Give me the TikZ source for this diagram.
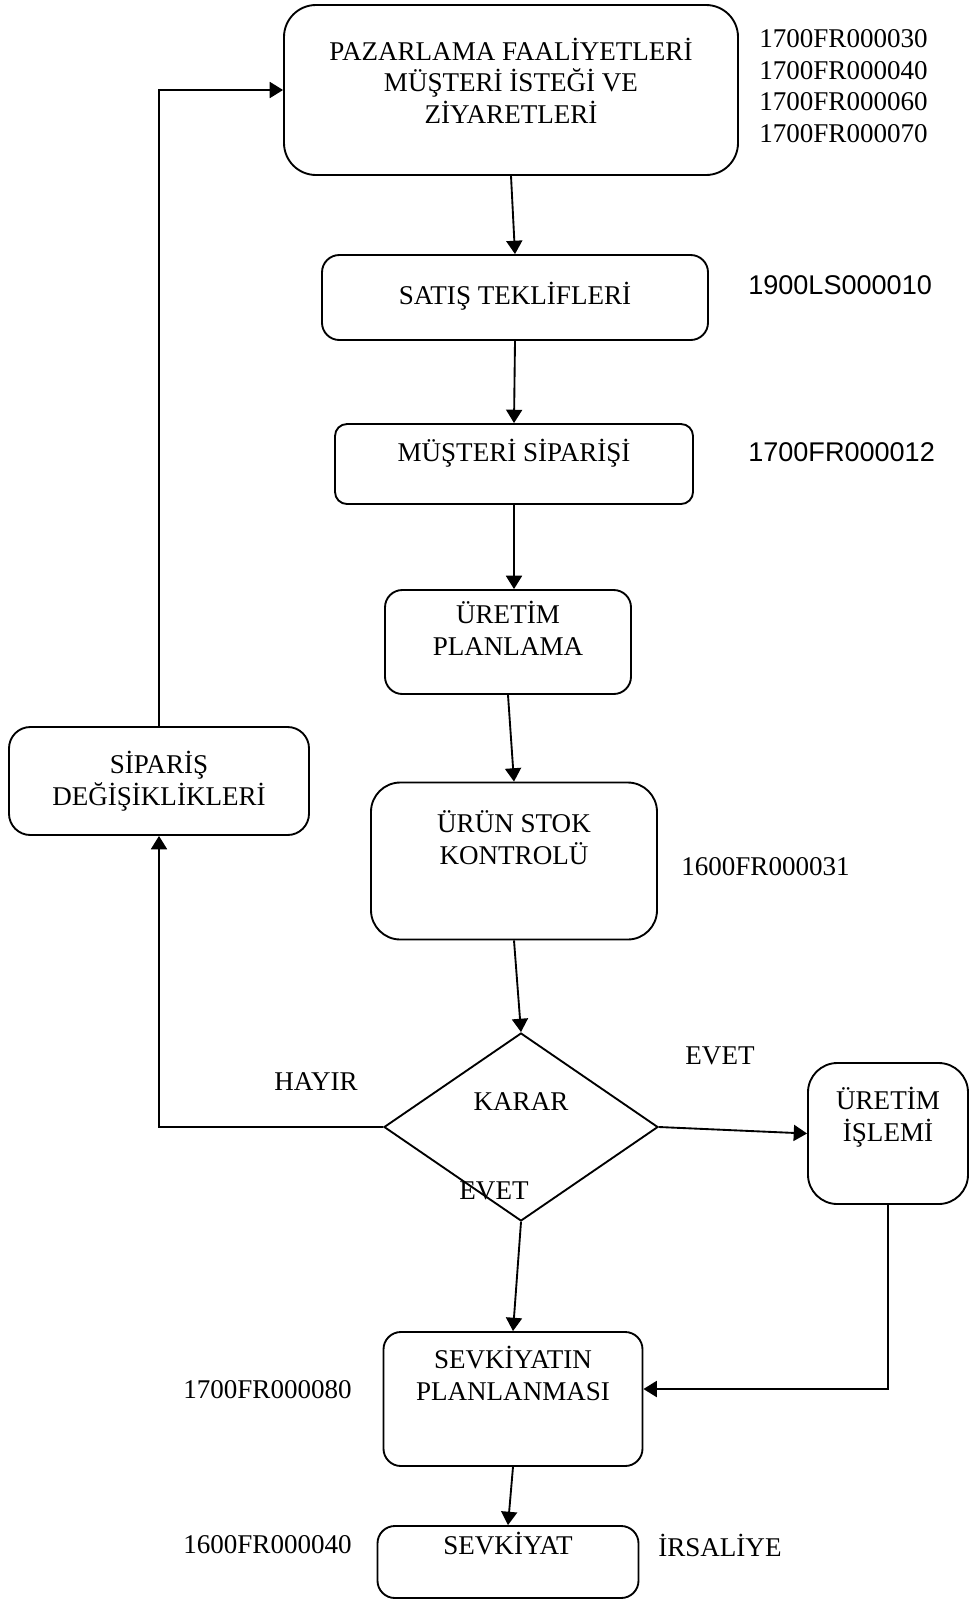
\documentclass[tikz,border=0pt]{standalone}
\usepackage{fontspec}
\setmainfont{Liberation Serif}
\newfontfamily\arialfont{Liberation Sans}
\usepackage{tikz}
\usetikzlibrary{arrows.meta,shapes.geometric}

\begin{document}
\begin{tikzpicture}[x=0.75pt, y=-0.75pt,
    box/.style={rectangle, draw=black, line width=1.4pt, align=center, rounded corners=13pt, inner sep=0pt, text depth=0pt, font=\fontsize{20.3}{23.3}\selectfont},
    decision/.style={diamond, draw=black, line width=1.4pt, align=center, inner sep=0pt, font=\fontsize{20.3}{23.3}\selectfont},
    arrow/.style={-{Triangle[length=10pt, width=12pt]}, line width=1.4pt},
    code/.style={font=\fontsize{20.3}{23.6}\selectfont, inner sep=0pt, align=left},
    sanscode/.style={font=\arialfont\fontsize{20.3}{23.6}\selectfont, inner sep=0pt}
]
\useasboundingbox (0,0) rectangle (970,1600);

% Main flow
\node[box, rounded corners=24pt, minimum width=340.5pt, minimum height=127.5pt, text height=49.5pt] (pazar) at (511,90) {PAZARLAMA FAAL\.IYETLER\.I\\M\"U\c{S}TER\.I \.ISTE\u{G}\.I VE\\Z\.IYARETLER\.I};
\node[box, minimum width=289.5pt, minimum height=63.75pt, text height=9.75pt] (satis) at (515,297.5) {SATI\c{S} TEKL\.IFLER\.I};
\node[box, rounded corners=9pt, minimum width=268.5pt, minimum height=60pt, text height=0pt, text depth=4.5pt] (musteri) at (514,464) {M\"U\c{S}TER\.I S\.IPAR\.I\c{S}\.I};
\node[box, minimum width=184.5pt, minimum height=78pt, text height=19.5pt] (uretimplan) at (508,642) {\"URET\.IM\\PLANLAMA};
\node[box, rounded corners=22pt, minimum width=214.5pt, minimum height=117.75pt, text height=4.5pt] (urun) at (514,861) {\"UR\"UN STOK\\KONTROL\"U};
\node[decision, minimum width=205.5pt, minimum height=141pt, text height=0pt, text depth=25.5pt] (karar) at (521,1127) {KARAR};
\node[box, rounded corners=22pt, minimum width=120pt, minimum height=105.75pt, text height=11.25pt] (uretimislem) at (888,1133.5) {\"URET\.IM\\\.I\c{S}LEM\.I};
\node[box, minimum width=194.25pt, minimum height=100.5pt, text height=1.5pt] (sevkplan) at (513,1399) {SEVK\.IYATIN\\PLANLANMASI};
\node[box, minimum width=195.75pt, minimum height=54pt, text height=0pt, text depth=12pt] (sevkiyat) at (508,1562) {SEVK\.IYAT};

% Feedback
\node[box, rounded corners=16pt, minimum width=225pt, minimum height=81pt, text height=36pt] (siparis) at (159,781) {S\.IPAR\.I\c{S}\\DE\u{G}\.I\c{S}\.IKL\.IKLER\.I};

% Form numbers
\node[code, anchor=west] (formtop) at (759,86) {1700FR000030\\1700FR000040\\1700FR000060\\1700FR000070};
\node[sanscode, anchor=west] (formsatis) at (748,285) {1900LS000010};
\node[sanscode, anchor=west] (formmusteri) at (748,452) {1700FR000012};
\node[code, anchor=west] (formurun) at (681,867) {1600FR000031};
\node[code, anchor=east] (formsevkplan) at (352,1390) {1700FR000080};
\node[code, anchor=east] (formsevkiyat) at (352,1545) {1600FR000040};
\node[code, anchor=west] (irsaliye) at (658,1545) {\.IRSAL\.IYE};

% Arrows
\draw[arrow] (pazar.south) -- (satis.north);
\draw[arrow] (satis.south) -- (musteri.north);
\draw[arrow] (musteri.south) -- (musteri.south |- uretimplan.north);
\draw[arrow] (uretimplan.south) -- (urun.north);
\draw[arrow] (urun.south) -- (karar.north);
\draw[arrow] (karar.east) -- (uretimislem.west);
\draw[arrow] (karar.south) -- (sevkplan.north);
\draw[arrow] (uretimislem.south) |- ([yshift=7.5pt]sevkplan.east);
\draw[arrow] (sevkplan.south) -- (sevkiyat.north);
\draw[arrow] (karar.west) -| (siparis.south);
\draw[arrow] (siparis.north) |- (pazar.west);

% Decision labels
\node[code] (hayir) at (316,1082) {HAYIR};
\node[code] (evetright) at (720,1056) {EVET};
\node[code] (evetdown) at (494,1191) {EVET};
\end{tikzpicture}
\end{document}
